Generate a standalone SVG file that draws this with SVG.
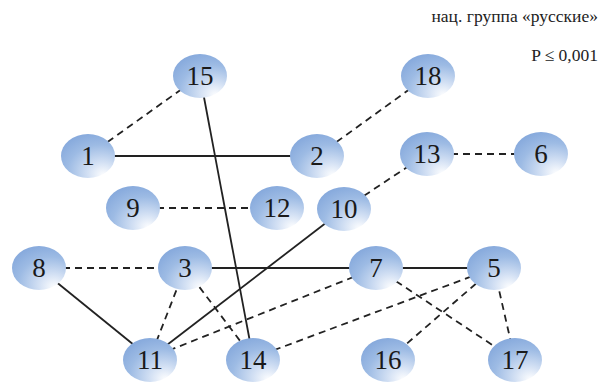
<svg xmlns="http://www.w3.org/2000/svg" width="602" height="385" viewBox="0 0 602 385">
<defs>
<radialGradient id="g" cx="0.68" cy="0.8" r="0.85" fx="0.8" fy="0.95">
<stop offset="0" stop-color="#ffffff"/>
<stop offset="0.3" stop-color="#d4e1f4"/>
<stop offset="0.7" stop-color="#9dbbe4"/>
<stop offset="1" stop-color="#86a9dc"/>
</radialGradient>
<style>
.n ellipse{fill:url(#g)}
.n text{font-family:'Liberation Serif','Times New Roman','DejaVu Serif',serif;font-size:27px;fill:#1a1a1a;text-anchor:middle;dominant-baseline:central}
.s{stroke:#222;stroke-width:1.8;fill:none}
.d{stroke:#222;stroke-width:1.8;fill:none;stroke-dasharray:7 5}
.t{font-family:'Liberation Serif','Times New Roman','DejaVu Serif',serif;fill:#222;text-anchor:end}
</style>
</defs>
<rect width="602" height="385" fill="#fff"/>
<text class="t" x="598" y="22" font-size="17.5">нац. группа «русские»</text>
<text class="t" x="598" y="61" font-size="17.5">P ≤ 0,001</text>
<g id="connectors">
<line class="d" x1="88" y1="156" x2="200" y2="76"/>
<line class="s" x1="88" y1="156" x2="317" y2="156"/>
<line class="s" x1="200" y1="76" x2="253" y2="358"/>
<line class="d" x1="317" y1="156" x2="428" y2="76"/>
<line class="d" x1="427" y1="154" x2="541" y2="154"/>
<line class="d" x1="133" y1="208" x2="277" y2="208"/>
<line class="d" x1="344" y1="209" x2="427" y2="154"/>
<line class="s" x1="344" y1="209" x2="150" y2="358"/>
<line class="d" x1="39" y1="268" x2="185" y2="268"/>
<line class="s" x1="185" y1="268" x2="376" y2="268"/>
<line class="s" x1="376" y1="268" x2="494" y2="268"/>
<line class="s" x1="39" y1="268" x2="150" y2="358"/>
<line class="d" x1="185" y1="268" x2="150" y2="358"/>
<line class="d" x1="185" y1="268" x2="253" y2="358"/>
<line class="d" x1="376" y1="268" x2="150" y2="358"/>
<line class="d" x1="494" y1="268" x2="253" y2="358"/>
<line class="d" x1="376" y1="268" x2="515" y2="360"/>
<line class="d" x1="494" y1="268" x2="388" y2="360"/>
<line class="d" x1="494" y1="268" x2="515" y2="360"/>
</g>
<g id="n15" class="n"><ellipse cx="200" cy="76" rx="27" ry="22"/><text x="200" y="76">15</text></g>
<g id="n18" class="n"><ellipse cx="428" cy="76" rx="27" ry="22"/><text x="428" y="76">18</text></g>
<g id="n1" class="n"><ellipse cx="88" cy="156" rx="27" ry="22"/><text x="88" y="156">1</text></g>
<g id="n2" class="n"><ellipse cx="317" cy="156" rx="27" ry="22"/><text x="317" y="156">2</text></g>
<g id="n13" class="n"><ellipse cx="427" cy="154" rx="27" ry="22"/><text x="427" y="154">13</text></g>
<g id="n6" class="n"><ellipse cx="541" cy="154" rx="27" ry="22"/><text x="541" y="154">6</text></g>
<g id="n9" class="n"><ellipse cx="133" cy="208" rx="27" ry="22"/><text x="133" y="208">9</text></g>
<g id="n12" class="n"><ellipse cx="277" cy="208" rx="27" ry="22"/><text x="277" y="208">12</text></g>
<g id="n10" class="n"><ellipse cx="344" cy="209" rx="27" ry="22"/><text x="344" y="209">10</text></g>
<g id="n8" class="n"><ellipse cx="39" cy="268" rx="27" ry="22"/><text x="39" y="268">8</text></g>
<g id="n3" class="n"><ellipse cx="185" cy="268" rx="27" ry="22"/><text x="185" y="268">3</text></g>
<g id="n7" class="n"><ellipse cx="376" cy="268" rx="27" ry="22"/><text x="376" y="268">7</text></g>
<g id="n5" class="n"><ellipse cx="494" cy="268" rx="27" ry="22"/><text x="494" y="268">5</text></g>
<g id="n11" class="n"><ellipse cx="150" cy="360" rx="27" ry="22"/><text x="150" y="360">11</text></g>
<g id="n14" class="n"><ellipse cx="253" cy="360" rx="27" ry="22"/><text x="253" y="360">14</text></g>
<g id="n16" class="n"><ellipse cx="388" cy="360" rx="27" ry="22"/><text x="388" y="360">16</text></g>
<g id="n17" class="n"><ellipse cx="515" cy="360" rx="27" ry="22"/><text x="515" y="360">17</text></g>
</svg>
